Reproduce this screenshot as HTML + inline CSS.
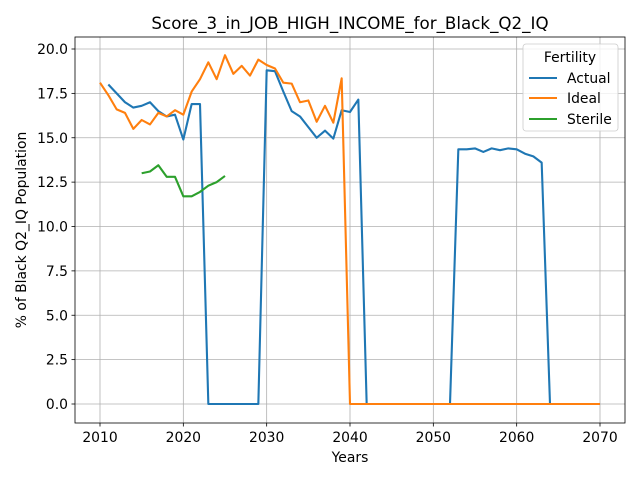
<!DOCTYPE html>
<html><head><meta charset="utf-8"><style>
body{margin:0;background:#fff;font-family:"DejaVu Sans","Liberation Sans",sans-serif}
svg text{font-family:"DejaVu Sans","Liberation Sans",sans-serif}
#chart{position:absolute;left:0;top:0}
</style></head><body>
<svg id="chart" width="640" height="480"></svg>
<script>
const years = [];
for (let y = 2010; y <= 2070; y++) years.push(y);
const actualStart = 2011;
const actualValues = [18.0,17.5,17.0,16.7,16.8,17.0,16.5,16.2,16.3,14.9,16.9,16.9,0,0,0,0,0,0,0,18.8,18.75,17.6,16.5,16.2,15.6,15.0,15.4,14.95,16.55,16.45,17.15,0,0,0,0,0,0,0,0,0,0,0,14.35,14.35,14.4,14.2,14.4,14.3,14.4,14.35,14.1,13.95,13.6,0,0,0,0,0,0,0];
const idealStart = 2010;
const idealValues = [18.1,17.4,16.6,16.4,15.5,16.0,15.75,16.4,16.2,16.55,16.3,17.6,18.3,19.25,18.3,19.65,18.6,19.05,18.5,19.4,19.1,18.9,18.1,18.05,17.0,17.1,15.9,16.8,15.85,18.35,0,0,0,0,0,0,0,0,0,0,0,0,0,0,0,0,0,0,0,0,0,0,0,0,0,0,0,0,0,0,0];
const sterileStart = 2015;
const sterileValues = [13.0,13.1,13.45,12.8,12.8,11.7,11.7,11.95,12.3,12.5,12.85];
const xTicks = [2010,2020,2030,2040,2050,2060,2070];
const yTicks = [0,2.5,5,7.5,10,12.5,15,17.5,20];
const yTickLabels = ["0.0","2.5","5.0","7.5","10.0","12.5","15.0","17.5","20.0"];

const L=75,R=625,T=37,B=423;
const X=v=>100+(v-2010)*500/60;
const Y=v=>404-v*(404-49)/20;
const svg=document.getElementById('chart');
const NS='http://www.w3.org/2000/svg';
function mk(tag,attrs,parent){const e=document.createElementNS(NS,tag);for(const k in attrs)e.setAttribute(k,attrs[k]);(parent||svg).appendChild(e);return e;}
xTicks.forEach(t=>{const g=mk('line',{x1:X(t),x2:X(t),y1:T,y2:B,stroke:'#b0b0b0','stroke-width':0.8});


const tk=mk('line',{x1:X(t),x2:X(t),y1:B,y2:B+3.5,stroke:'#000','stroke-width':0.8});


const tx=mk('text',{x:X(t),y:B+19,'font-size':13.9,'text-anchor':'middle'});tx.textContent=t;

});
yTicks.forEach((t,i)=>{const g=mk('line',{x1:L,x2:R,y1:Y(t),y2:Y(t),stroke:'#b0b0b0','stroke-width':0.8});


const tk=mk('line',{x1:L-3.5,x2:L,y1:Y(t),y2:Y(t),stroke:'#000','stroke-width':0.8});


const tx=mk('text',{x:L-7,y:Y(t)+5,'font-size':13.9,'text-anchor':'end'});tx.textContent=yTickLabels[i];

});
function series(start,vals,color,name){const pts=vals.map((v,i)=>X(start+i)+','+Y(v)).join(' ');
const p=mk('polyline',{points:pts,fill:'none',stroke:color,'stroke-width':2.1,'stroke-linejoin':'round'});

}
series(actualStart,actualValues,'#1f77b4','actual-line');
series(idealStart,idealValues,'#ff7f0e','ideal-line');
series(sterileStart,sterileValues,'#2ca02c','sterile-line');
</script>
<svg width="640" height="480" style="position:absolute;left:0;top:0">
<rect x="75" y="37" width="550" height="386" fill="none" stroke="#000" stroke-width="0.8"/>
<text x="350" y="29" font-size="16.7" text-anchor="middle">Score_3_in_JOB_HIGH_INCOME_for_Black_Q2_IQ</text>
<text x="350" y="462" font-size="13.9" text-anchor="middle">Years</text>
<text transform="translate(26,230) rotate(-90)" font-size="13.9" text-anchor="middle">% of Black Q2_IQ Population</text>
<g>
<rect x="523" y="44" width="95" height="87" rx="3" fill="#fff" fill-opacity="0.8" stroke="#ccc" stroke-width="0.8"/>
<text x="570" y="62" font-size="13.9" text-anchor="middle">Fertility</text>
<line x1="529" x2="557" y1="78" y2="78" stroke="#1f77b4" stroke-width="2.1"/>
<text x="567" y="83" font-size="13.9">Actual</text>
<line x1="529" x2="557" y1="98" y2="98" stroke="#ff7f0e" stroke-width="2.1"/>
<text x="567" y="103" font-size="13.9">Ideal</text>
<line x1="529" x2="557" y1="119" y2="119" stroke="#2ca02c" stroke-width="2.1"/>
<text x="567" y="124" font-size="13.9">Sterile</text>
</g>
</svg>
</body></html>
